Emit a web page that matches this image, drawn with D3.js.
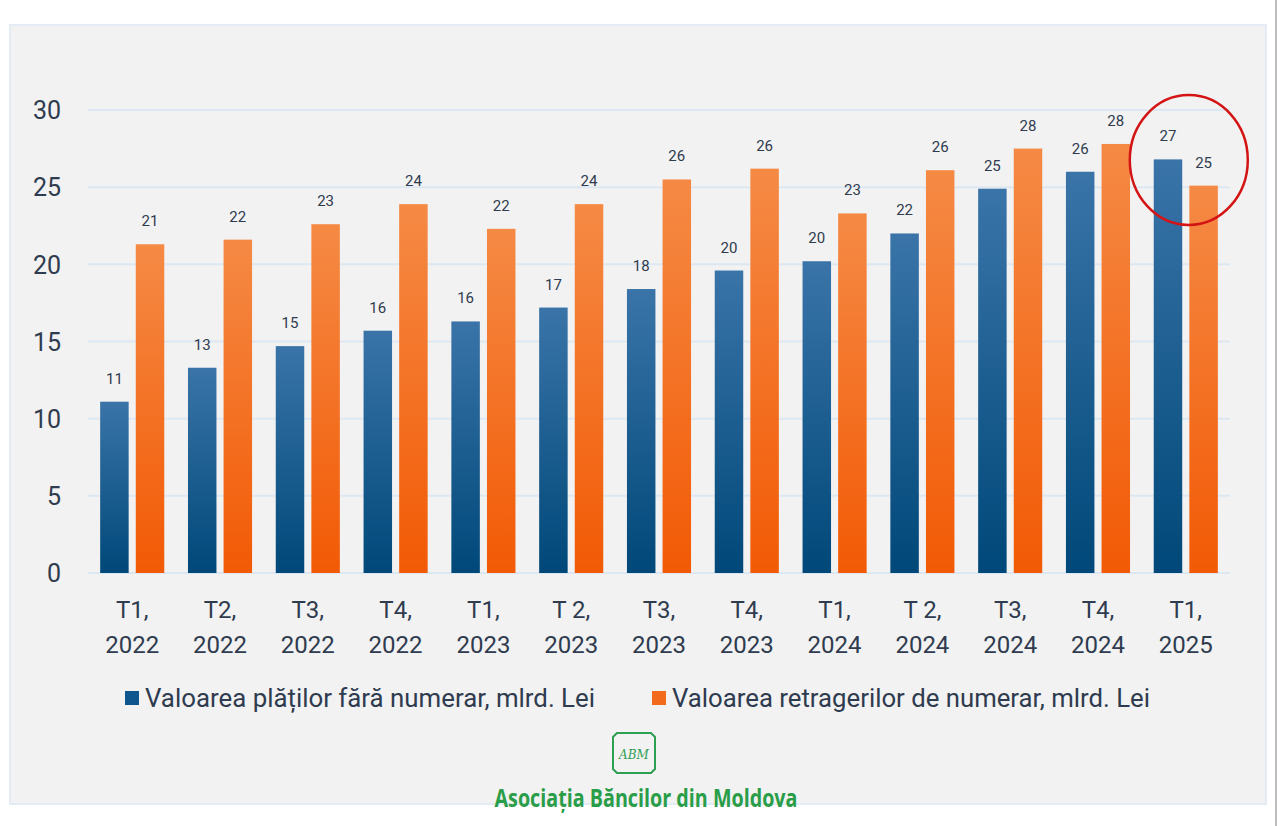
<!DOCTYPE html>
<html>
<head>
<meta charset="utf-8">
<script src="https://cdnjs.cloudflare.com/ajax/libs/d3/7.8.5/d3.min.js"></script>
<style>
  body { margin: 0; background: #fff; }
  svg { display: block; }
</style>
</head>
<body>
<div id="chart"></div>
<script>
// quarters (two-line labels)
var categories = ["T1,|2022", "T2,|2022", "T3,|2022", "T4,|2022", "T1,|2023", "T 2,|2023", "T3,|2023",
                  "T4,|2023", "T1,|2024", "T 2,|2024", "T3,|2024", "T4,|2024", "T1,|2025"];
var cashless = [11.1, 13.3, 14.7, 15.7, 16.3, 17.2, 18.4, 19.6, 20.2, 22.0, 24.9, 26.0, 26.8];
var withdrawals = [21.3, 21.6, 22.6, 23.9, 22.3, 23.9, 25.5, 26.2, 23.3, 26.1, 27.5, 27.8, 25.1];
var seriesNames = ["Valoarea plăților fără numerar, mlrd. Lei", "Valoarea retragerilor de numerar, mlrd. Lei"];
var yTicks = [0, 5, 10, 15, 20, 25, 30];

var w = 1280, h = 826;
var font = "Roboto, 'Liberation Sans', sans-serif";
var svg = d3.select("#chart").append("svg").attr("width", w).attr("height", h);

var defs = svg.append("defs");
var gb = defs.append("linearGradient").attr("id", "gBlue").attr("x1", 0).attr("y1", 0).attr("x2", 0).attr("y2", 1);
gb.append("stop").attr("offset", "0%").attr("stop-color", "#3a74a8");
gb.append("stop").attr("offset", "100%").attr("stop-color", "#004879");
var go = defs.append("linearGradient").attr("id", "gOrange").attr("x1", 0).attr("y1", 0).attr("x2", 0).attr("y2", 1);
go.append("stop").attr("offset", "0%").attr("stop-color", "#f58a45");
go.append("stop").attr("offset", "100%").attr("stop-color", "#f25a05");

// panel
svg.append("rect").attr("x", 10).attr("y", 25).attr("width", 1256).attr("height", 779)
  .attr("fill", "#f2f2f2").attr("stroke", "#e3ebf4").attr("stroke-width", 2);
svg.append("line").attr("x1", 1276).attr("x2", 1276).attr("y1", 0).attr("y2", h)
  .attr("stroke", "#bdbdbd").attr("stroke-width", 2);

var x = d3.scaleBand().domain(categories).range([87, 1231]).paddingInner(0.27).paddingOuter(0.15);
var y = d3.scaleLinear().domain([0, 30]).range([573, 110]);

// gridlines
svg.append("g").selectAll("line").data(yTicks).enter().append("line")
  .attr("x1", 88).attr("x2", 1230)
  .attr("y1", function(d){ return y(d); }).attr("y2", function(d){ return y(d); })
  .attr("stroke", "#dde7f2").attr("stroke-width", 2);

// y axis labels
var yAxis = d3.axisLeft(y).tickValues(yTicks).tickSize(0).tickPadding(0);
var ya = svg.append("g").attr("transform", "translate(61,0)").call(yAxis);
ya.select(".domain").remove();
ya.selectAll("text").attr("font-family", font)
  .attr("font-size", 25).attr("fill", "#2f3b4f").attr("dy", "0.35em");

var sub = d3.scaleBand().domain([0, 1]).range([0, x.bandwidth()]).paddingInner(0.2);

var groups = svg.append("g").selectAll("g").data(categories).enter().append("g")
  .attr("transform", function(d){ return "translate(" + x(d) + ",0)"; });

[cashless, withdrawals].forEach(function(vals, si){
  groups.append("rect")
    .attr("x", sub(si))
    .attr("width", sub.bandwidth())
    .attr("y", function(d, i){ return y(vals[i]); })
    .attr("height", function(d, i){ return y(0) - y(vals[i]); })
    .attr("fill", si == 0 ? "url(#gBlue)" : "url(#gOrange)");
  groups.append("text")
    .attr("x", sub(si) + sub.bandwidth() / 2)
    .attr("y", function(d, i){ return y(vals[i]) - 18; })
    .attr("text-anchor", "middle")
    .attr("font-family", font)
    .attr("font-size", 15).attr("fill", "#2f3b4f")
    .text(function(d, i){ return Math.round(vals[i]); });
});

// x labels
groups.each(function(d){
  var lines = d.split("|");
  var t = d3.select(this).append("text")
    .attr("text-anchor", "middle")
    .attr("font-family", font)
    .attr("font-size", 24).attr("fill", "#2f3b4f");
  lines.forEach(function(l, k){
    t.append("tspan").attr("x", x.bandwidth() / 2).attr("y", 618 + k * 35).text(l);
  });
});

// legend
var legX = [125, 652];
var legLen = [450, 478];
seriesNames.forEach(function(name, i){
  svg.append("rect").attr("x", legX[i]).attr("y", 691).attr("width", 14).attr("height", 14)
    .attr("fill", i == 0 ? "#0f568f" : "#f26a1b");
  svg.append("text").attr("x", legX[i] + 20).attr("y", 707)
    .attr("font-family", font)
    .attr("font-size", 25).attr("fill", "#2f3b4f")
    .attr("textLength", legLen[i]).attr("lengthAdjust", "spacingAndGlyphs")
    .text(name);
});

// highlight circle around last group
var last = categories[categories.length - 1];
svg.append("ellipse").attr("cx", x(last) + x.bandwidth() / 2 + 3).attr("cy", 160)
  .attr("rx", 59).attr("ry", 65).attr("fill", "none")
  .attr("stroke", "#d41414").attr("stroke-width", 2.5);

// logo
var logo = svg.append("g").attr("transform", "translate(613,733)");
logo.append("path").attr("d", "M4,0 H38 L42,4 V36 L38,40 H4 L0,36 V4 Z")
  .attr("fill", "none").attr("stroke", "#2e9e52").attr("stroke-width", 2);
logo.append("text").attr("x", 21).attr("y", 26).attr("text-anchor", "middle")
  .attr("font-family", "'DejaVu Serif', serif").attr("font-style", "italic")
  .attr("font-size", 12).attr("fill", "#2e9e52").text("ABM");
svg.append("text").attr("x", 646).attr("y", 807).attr("text-anchor", "middle")
  .attr("font-family", "'Liberation Sans Narrow', 'Open Sans', sans-serif")
  .attr("font-weight", "bold").attr("font-size", 25).attr("fill", "#2a9d48")
  .attr("textLength", 303).attr("lengthAdjust", "spacingAndGlyphs")
  .text("Asociația Băncilor din Moldova");
</script>
</body>
</html>
